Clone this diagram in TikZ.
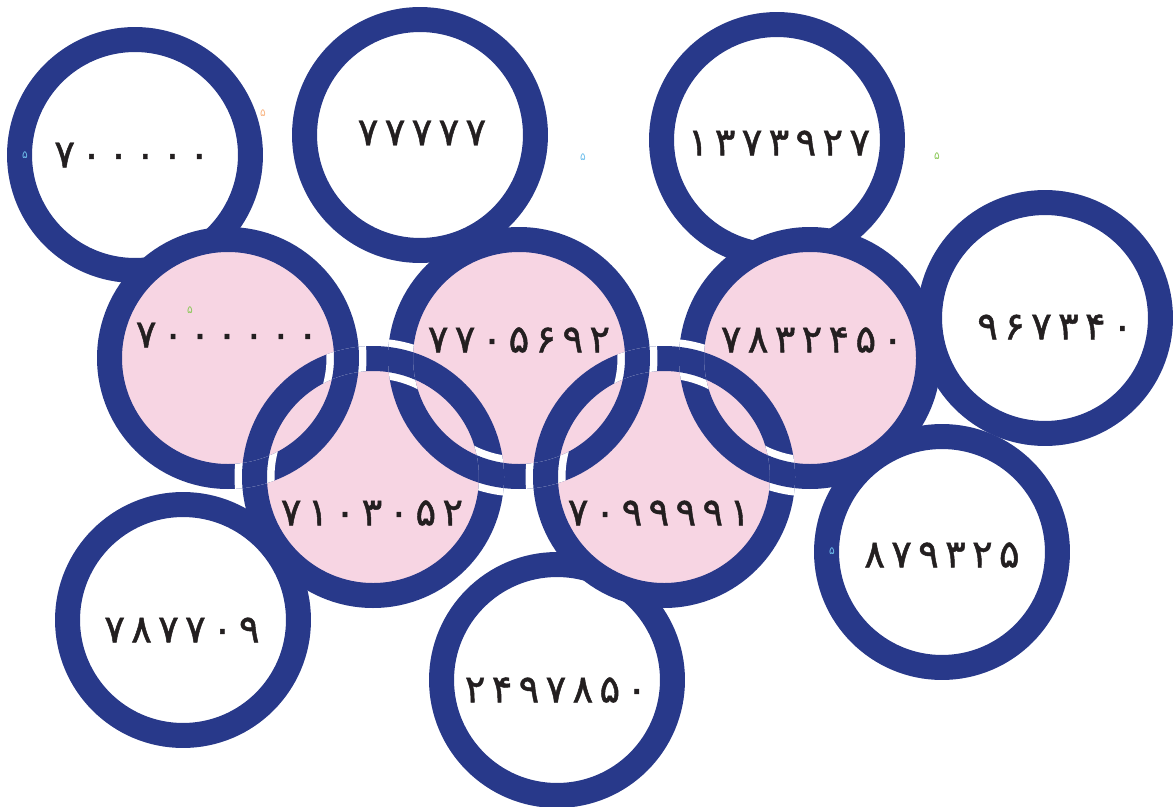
\documentclass[tikz,border=0pt]{standalone}
\usepackage{fontspec}
\newfontfamily\digitfont[Script=Arabic,LetterSpace=16,FakeBold=1.2]{DejaVu Sans}
\newfontfamily\markfont[Script=Arabic]{DejaVu Sans}
\usepackage{xcolor}
\definecolor{ringblue}{RGB}{40,57,138}
\definecolor{pinkfill}{RGB}{247,213,227}
\definecolor{digitblack}{RGB}{35,31,32}
\definecolor{markblue}{RGB}{110,190,235}
\definecolor{markgreen}{RGB}{140,200,90}
\definecolor{markorange}{RGB}{248,180,130}
\tikzstyle{ring}=[circle, inner sep=0pt, minimum size=4.62cm, line width=0.5cm, draw=ringblue, fill=white]
\tikzstyle{pinkdisk}=[circle, inner sep=0pt, minimum size=4.74cm, fill=pinkfill]
\tikzstyle{pinkring}=[line width=0.5cm, draw=ringblue]
\tikzstyle{gap}=[line width=0.8cm, draw=white]
\tikzstyle{digits}=[font=\digitfont\fontsize{22}{26}\selectfont, text=digitblack, inner sep=0pt]
\tikzstyle{tinymark}=[font=\markfont\fontsize{6}{6}\selectfont, inner sep=0pt]

\begin{document}
\begin{tikzpicture}[x=0.02cm, y=0.02cm]
\useasboundingbox (0,0) rectangle (1173,806);

% outer circles
\node[ring] (w1) at (135,651) {};
\node[ring] (w2) at (420,671) {};
\node[ring] (w3) at (777,666) {};
\node[ring] (w4) at (1045,488) {};
\node[ring] (w5) at (942,254) {};
\node[ring] (w6) at (557,126) {};
\node[ring] (w7) at (183,186) {};

% the five rings
\foreach \name/\x/\y in {p1/228/448, p2/519/448, p3/810/448, p4/373/329, p5/664/329}{
    \node[pinkdisk] (\name) at (\x,\y) {};
}
\foreach \name in {p1,p2,p3,p4,p5}
    \draw[pinkring] (\name.center) circle[radius=118.5];

% over/under crossings
\foreach \over/\under/\ang in {p1/p4/-1.7, p4/p1/178.3, p4/p2/76.6, p2/p4/256.6,
                               p2/p5/-1.7, p5/p2/178.3, p5/p3/76.6, p3/p5/256.6}{
    \begin{scope}[even odd rule]
        \clip (\under.center) circle[radius=131] (\under.center) circle[radius=106];
        \draw[gap] ([shift={(\ang-25:118.5)}]\over.center) arc[start angle=\ang-25, end angle=\ang+25, radius=118.5];
        \draw[pinkring] ([shift={(\ang-25:118.5)}]\over.center) arc[start angle=\ang-25, end angle=\ang+25, radius=118.5];
    \end{scope}
}

% numbers
\node[digits] (t1) at (132,651) {۷۰۰۰۰۰};
\node[digits] (t2) at (422,673) {۷۷۷۷۷};
\node[digits] (t3) at (779,663) {۱۳۷۳۹۲۷};
\node[digits] (t4) at (1055,479) {۹۶۷۳۴۰};
\node[digits] (t5) at (942,251) {۸۷۹۳۲۵};
\node[digits] (t6) at (556,116) {۲۴۹۷۸۵۰};
\node[digits] (t7) at (182,176) {۷۸۷۷۰۹};
\node[digits] (q1) at (227,471) {۷۰۰۰۰۰۰};
\node[digits] (q2) at (519,466) {۷۷۰۵۶۹۲};
\node[digits] (q3) at (812,466) {۷۸۳۲۴۵۰};
\node[digits] (q4) at (372,293) {۷۱۰۳۰۵۲};
\node[digits] (q5) at (659,293) {۷۰۹۹۹۹۱};

% stray marks
\node[tinymark, text=markblue] (m1) at (25,651) {۵};
\node[tinymark, text=markorange] (m2) at (263,693) {۵};
\node[tinymark, text=markblue] (m3) at (583,649) {۵};
\node[tinymark, text=markgreen] (m4) at (937,650) {۵};
\node[tinymark, text=markgreen] (m5) at (190,496) {۵};
\node[tinymark, text=markblue] (m6) at (832,255) {۵};

\end{tikzpicture}
\end{document}
